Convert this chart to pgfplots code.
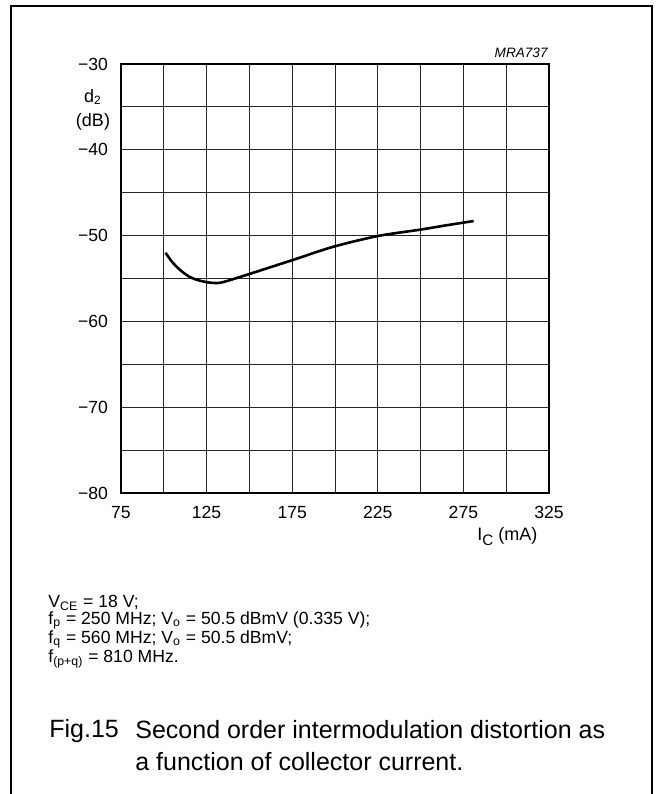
\documentclass[border=0pt]{standalone}
\usepackage{fontspec}
\setmainfont{Liberation Sans}
\usepackage{pgfplots}
\pgfplotsset{compat=1.18}
\begin{document}
\begin{tikzpicture}
\path[use as bounding box] (0pt,0pt) rectangle (328pt,397pt);
\begin{axis}[
  at={(60.5pt,150.5pt)}, anchor=south west, scale only axis,
  width=214pt, height=214.5pt,
  xmin=75, xmax=325, ymin=-80, ymax=-30,
  xtick={75,125,...,325}, minor xtick={100,150,...,300},
  ytick={-80,-70,...,-30}, minor ytick={-75,-65,...,-35},
  yticklabels={−80,−70,−60,−50,−40,−30},
  xticklabels={75,125,175,225,275,325},
  grid=both,
  grid style={black!85, line width=0.45pt},
  minor grid style={black!85, line width=0.45pt},
  major tick length=0pt, minor tick length=0pt,
  axis line style={line width=0.55pt},
  tick label style={font=\fontsize{8.8}{10}\selectfont},
  xticklabel style={yshift=-3pt},
  yticklabel style={xshift=-3pt},
]
\addplot[black, line width=1.3pt, smooth] coordinates {
(101,-52.0) (105,-53.1) (109.5,-54.0) (115,-54.8) (121,-55.25) (128,-55.5) (134,-55.45)
(148,-54.6) (162,-53.7) (176,-52.8) (199,-51.3) (225,-50.05) (250,-49.3) (265,-48.8) (281,-48.3)
};
\end{axis}
\begin{scope}[x=0.5pt,y=0.5pt]
\draw[line width=1pt] (11,-10) -- (11,788) -- (652,788) -- (652,-10);
\node[font=\fontsize{9}{10}\selectfont] at (93,697) {d\textsubscript{2}};
\node[font=\fontsize{9}{10}\selectfont] at (93,672) {(dB)};
\node[font=\fontsize{9}{10}\selectfont, anchor=base west, inner sep=0pt] at (477,253) {I\raisebox{-0.45ex}{\fontsize{7.6}{8}\selectfont C} (mA)};
\node[font=\fontsize{6.8}{8}\selectfont\itshape, anchor=east, inner sep=0pt] at (548,741) {MRA737};
\node[font=\fontsize{8.8}{8.35}\selectfont, anchor=base west, inner sep=0pt, align=left] at (48,131) {%
V\textsubscript{CE} = 18 V;\\
f\textsubscript{p} = 250 MHz; V\textsubscript{o} = 50.5 dBmV (0.335 V);\\
f\textsubscript{q} = 560 MHz; V\textsubscript{o} = 50.5 dBmV;\\
f\textsubscript{(p+q)} = 810 MHz.};
\node[font=\fontsize{12.5}{16}\selectfont, anchor=base west, inner sep=0pt] at (49,56) {Fig.15};
\node[font=\fontsize{12.5}{16}\selectfont, anchor=base west, inner sep=0pt, align=left] at (135,24) {Second order intermodulation distortion as\\a function of collector current.};
\end{scope}
\end{tikzpicture}
\end{document}
